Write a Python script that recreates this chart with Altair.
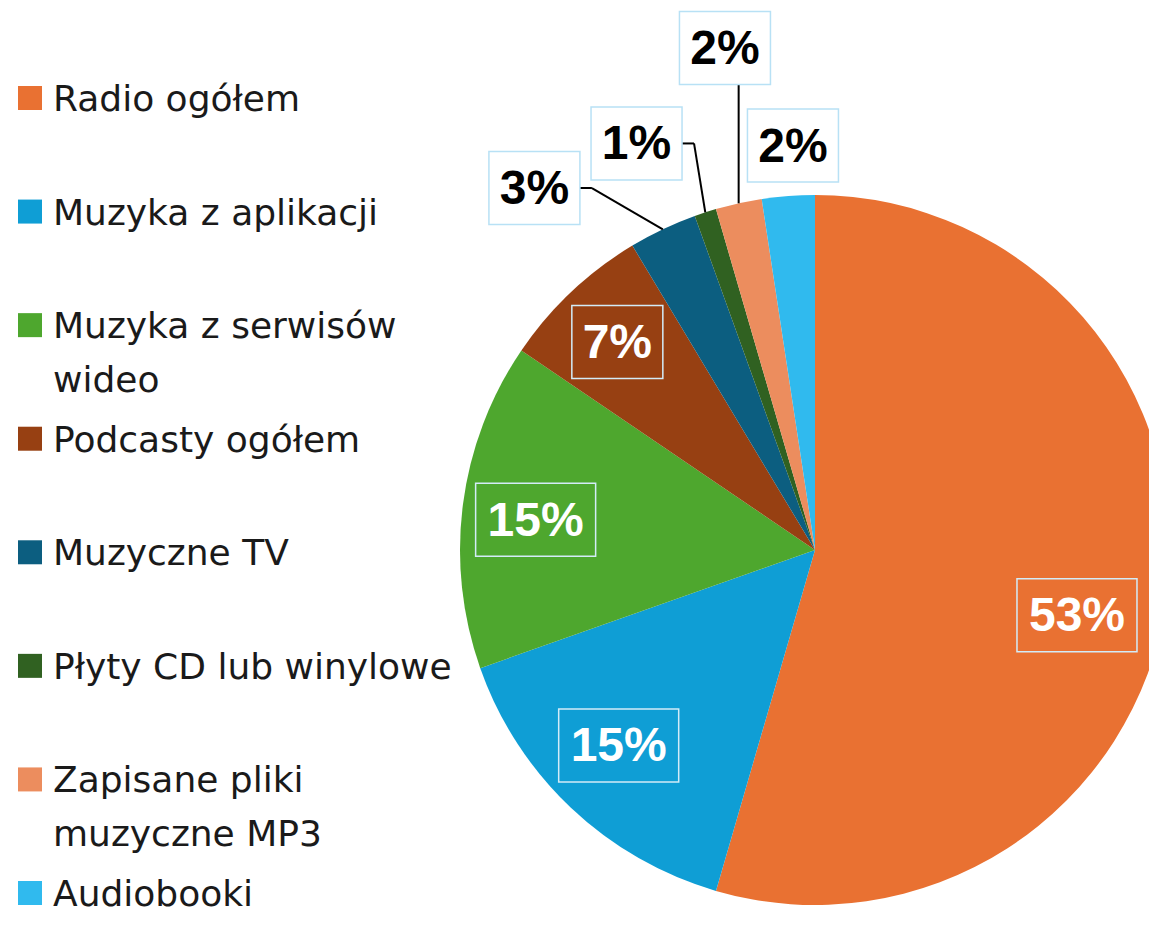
import altair as alt
import pandas as pd

# ---------------- data ----------------
categories = ["Radio ogółem", "Muzyka z aplikacji", "Muzyka z serwisów wideo",
              "Podcasty ogółem", "Muzyczne TV", "Płyty CD lub winylowe",
              "Zapisane pliki muzyczne MP3", "Audiobooki"]
legend_labels = ["Radio ogółem", "Muzyka z aplikacji", "Muzyka z serwisów\nwideo",
                 "Podcasty ogółem", "Muzyczne TV", "Płyty CD lub winylowe",
                 "Zapisane pliki\nmuzyczne MP3", "Audiobooki"]
values = [54.5, 15.1, 14.9, 6.9, 3.1, 1.0, 2.1, 2.4]
labels = ["53%", "15%", "15%", "7%", "3%", "1%", "2%", "2%"]

# ---------------- styles / layout ----------------
colors = ["#E97132", "#0F9ED5", "#4EA72E", "#974012", "#0C5E80", "#306121",
          "#EC8D5E", "#30BAEE"]
label_radius = [270, 277, 281, 287, 458, 444, 510, 405]
label_shift = [5.9, 1.75, -1.2, -0.15, -12.4, -5.7, 2.25, 1.2]
label_inside = [True, True, True, True, False, False, False, False]
leader = ["none", "none", "none", "none", "side", "side", "below", "none"]

CX, CY, R = 807, 542, 355
W, H = 1141, 911

df = pd.DataFrame({
    "category": categories,
    "legend": legend_labels,
    "value": values,
    "label": labels,
    "order": list(range(len(categories))),
    "r_lab": label_radius,
    "shift": label_shift,
    "inside": label_inside,
    "leader": leader,
})

color = alt.Color("category:N", scale=alt.Scale(domain=categories, range=colors), legend=None)

pie = alt.Chart(df).mark_arc(outerRadius=R).encode(
    theta=alt.Theta("value:Q", stack=True),
    order=alt.Order("order:Q"),
    color=color,
    x=alt.value(CX),
    y=alt.value(CY),
)

geo = alt.Chart(df).transform_joinaggregate(
    total="sum(value)"
).transform_window(
    cum="sum(value)", sort=[alt.SortField("order")], frame=[None, 0]
).transform_calculate(
    mid="(datum.cum - datum.value/2) / datum.total * 2 * PI",
).transform_calculate(
    ang="datum.mid + datum.shift * PI / 180",
    ex=f"{CX} + {R} * sin(datum.mid)",
    ey=f"{CY} - {R} * cos(datum.mid)",
).transform_calculate(
    lx=f"{CX} + datum.r_lab * sin(datum.ang)",
    ly=f"{CY} - datum.r_lab * cos(datum.ang)",
    bw="length(datum.label) * 29 + 33",
).transform_calculate(
    bx1="datum.lx - datum.bw / 2",
    bx2="datum.lx + datum.bw / 2",
    by1="datum.ly - 36.5",
    by2="datum.ly + 36.5",
).transform_calculate(
    elx="datum.leader == 'side' ? datum.bx2 + 12 : datum.ex",
    ely="datum.leader == 'side' ? datum.ly : datum.by2",
    enx="datum.leader == 'side' ? datum.bx2 : datum.ex",
    eny="datum.leader == 'side' ? datum.ly : datum.by2",
)

lead1 = geo.transform_filter("datum.leader != 'none'").mark_rule(color="#000000", strokeWidth=2).encode(
    x=alt.X("ex:Q", scale=None), y=alt.Y("ey:Q", scale=None),
    x2="elx:Q", y2="ely:Q",
)
lead2 = geo.transform_filter("datum.leader == 'side'").mark_rule(color="#000000", strokeWidth=2).encode(
    x=alt.X("elx:Q", scale=None), y=alt.Y("ely:Q", scale=None),
    x2="enx:Q", y2="eny:Q",
)

box_in = geo.transform_filter("datum.inside").mark_rect(
    fillOpacity=0, stroke="#D3ECF8", strokeWidth=1.5
).encode(
    x=alt.X("bx1:Q", scale=None), x2="bx2:Q",
    y=alt.Y("by1:Q", scale=None), y2="by2:Q",
)
box_out = geo.transform_filter("!datum.inside").mark_rect(
    fill="#FFFFFF", stroke="#B8E1F5", strokeWidth=1.5
).encode(
    x=alt.X("bx1:Q", scale=None), x2="bx2:Q",
    y=alt.Y("by1:Q", scale=None), y2="by2:Q",
)

txt_in = geo.transform_filter("datum.inside").mark_text(
    font="Liberation Sans", fontSize=48, fontWeight="bold", color="#FFFFFF",
    align="center", baseline="middle", dy=2
).encode(
    x=alt.X("lx:Q", scale=None), y=alt.Y("ly:Q", scale=None), text="label:N"
)
txt_out = geo.transform_filter("!datum.inside").mark_text(
    font="Liberation Sans", fontSize=48, fontWeight="bold", color="#000000",
    align="center", baseline="middle", dy=2
).encode(
    x=alt.X("lx:Q", scale=None), y=alt.Y("ly:Q", scale=None), text="label:N"
)

ly_scale = alt.Scale(type="point", domain=categories, range=[90, 885], padding=0)
leg_sq = alt.Chart(df).mark_square(size=576, opacity=1).encode(
    x=alt.value(22),
    y=alt.Y("category:N", scale=ly_scale, axis=None),
    color=color,
)
leg_txt = alt.Chart(df).mark_text(
    font="DejaVu Sans", fontSize=36, color="#1A1A1A", align="left",
    baseline="alphabetic", dy=13, lineBreak="\n", lineHeight=54
).encode(
    x=alt.value(45),
    y=alt.Y("category:N", scale=ly_scale, axis=None),
    text="legend:N",
)

chart = alt.layer(
    pie, lead1, lead2, box_in, box_out, txt_in, txt_out, leg_sq, leg_txt
).resolve_scale(
    x="independent", y="independent"
).properties(
    width=W, height=H, padding=0, autosize=alt.AutoSizeParams(type="none")
).configure_view(stroke=None)

chart.save("out.html", embed_options={"renderer": "svg", "actions": False})
